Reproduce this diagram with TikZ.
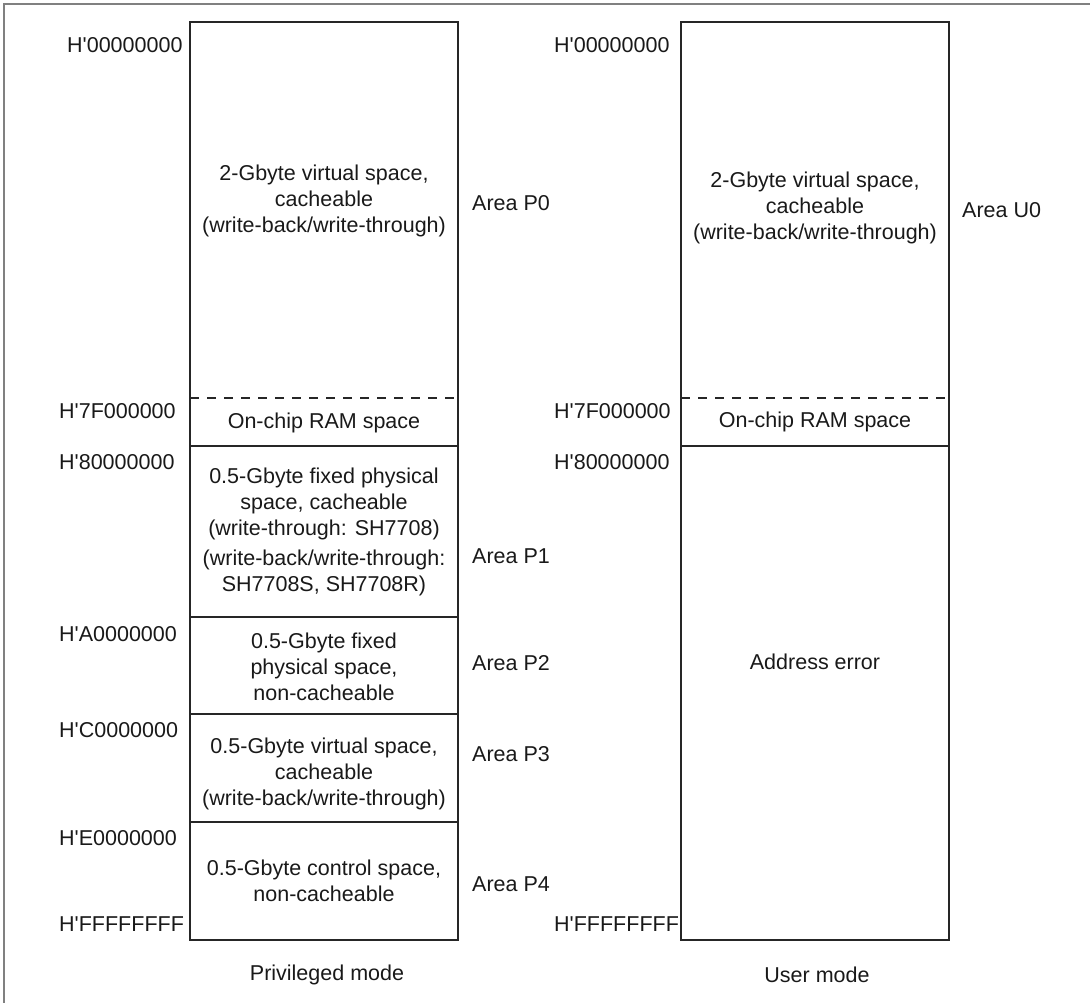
\documentclass[tikz,border=0pt]{standalone}
\usepackage{fontspec}
\setmainfont{Liberation Sans}
\newcommand\hq{H\textquotesingle}
\begin{document}
\begin{tikzpicture}[x=1pt,y=-1pt]
\tikzset{
 lbl/.style={font=\fontsize{21.5pt}{26pt}\selectfont, inner sep=0pt, text=black!90},
 addr/.style={lbl, anchor=west},
 area/.style={lbl, anchor=west},
 inbox/.style={lbl, align=center},
 boxline/.style={line width=1.2pt, draw=black!85},
 sepline/.style={boxline, dash pattern=on 9pt off 8pt},
 frameline/.style={line width=2pt, draw=black!50},
}
\useasboundingbox (0,0) rectangle (1090,1003);
\draw[frameline] (4,1003) -- (4,4) -- (1090,4);

% privileged mode map
\coordinate (L0) at (190,22);
\coordinate (L1) at (458,940);
\draw[boxline] (L0) rectangle (L1);
\draw[sepline] (190,398) -- (458,398);
\draw[boxline] (190,446) -- (458,446);
\draw[boxline] (190,617) -- (458,617);
\draw[boxline] (190,714) -- (458,714);
\draw[boxline] (190,822) -- (458,822);

\node[inbox] (p0) at (324,201) {2-Gbyte virtual space,\\cacheable\\(write-back/write-through)};
\node[lbl] (p0ram) at (324,423) {On-chip RAM space};
\node[inbox] (p1a) at (324,504) {0.5-Gbyte fixed physical\\space, cacheable\\(write-through: SH7708)};
\node[inbox] (p1b) at (324,573) {(write-back/write-through:\\SH7708S, SH7708R)};
\node[inbox] (p2) at (324,667) {0.5-Gbyte fixed\\physical space,\\non-cacheable};
\node[inbox] (p3) at (324,774) {0.5-Gbyte virtual space,\\cacheable\\(write-back/write-through)};
\node[inbox] (p4) at (324,881) {0.5-Gbyte control space,\\non-cacheable};

\node[addr] (la0) at (67,45.5) {\hq{}00000000};
\node[addr] (la1) at (59,411) {\hq{}7F000000};
\node[addr] (la2) at (59,462) {\hq{}80000000};
\node[addr] (la3) at (59,634) {\hq{}A0000000};
\node[addr] (la4) at (59,730) {\hq{}C0000000};
\node[addr] (la5) at (59,838) {\hq{}E0000000};
\node[addr] (la6) at (59,924) {\hq{}FFFFFFFF};

\node[area] (ap0) at (472,203) {Area P0};
\node[area] (ap1) at (472,556) {Area P1};
\node[area] (ap2) at (472,663) {Area P2};
\node[area] (ap3) at (472,754) {Area P3};
\node[area] (ap4) at (472,884) {Area P4};

% user mode map
\coordinate (R0) at (681,22);
\coordinate (R1) at (949,940);
\draw[boxline] (R0) rectangle (R1);
\draw[sepline] (681,398) -- (949,398);
\draw[boxline] (681,446) -- (949,446);

\node[inbox] (u0) at (815,208) {2-Gbyte virtual space,\\cacheable\\(write-back/write-through)};
\node[lbl] (u0ram) at (815,422) {On-chip RAM space};
\node[lbl] (uerr) at (815,662) {Address error};

\node[addr] (ra0) at (554,45.5) {\hq{}00000000};
\node[addr] (ra1) at (554,411) {\hq{}7F000000};
\node[addr] (ra2) at (554,462) {\hq{}80000000};
\node[addr] (ra3) at (554,924) {\hq{}FFFFFFFF};

\node[area] (au0) at (962,210) {Area U0};

\node[lbl] (priv) at (327,975) {Privileged mode};
\node[lbl] (user) at (817,975) {User mode};
\end{tikzpicture}
\end{document}
